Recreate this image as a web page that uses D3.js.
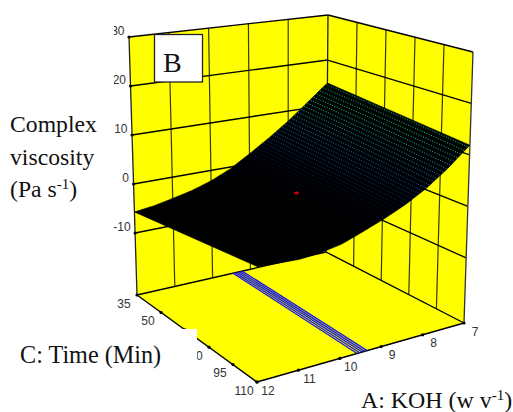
<!DOCTYPE html>
<html>
<head>
<meta charset="utf-8">
<style>
  html, body { margin: 0; padding: 0; background: #fff; }
  svg { display: block; }
</style>
<script src="https://cdn.jsdelivr.net/npm/d3@7"></script>
</head>
<body>
<div id="chart"></div>
<script>
// values
var kohTicks = [7, 8, 9, 10, 11, 12];
var timeTicks = [35, 50, 65, 80, 95, 110];
var zTicks = [-10, 0, 10, 20, 30];
var zFloor = -22.65;

var kohGrid = [12, 11.5, 11, 10.5, 10, 9.5, 9, 8.5, 8, 7.5, 7];
var zAtTime35 = [-5.7, -5.2, -4.4, -3.5, -2.2, -0.4, 2.1, 4.8, 7.8, 11.3, 14.9];
var zAtTime110 = [-2.3, -2.5, -2.7, -2.4, -1.7, -0.3, 1.2, 3.0, 5.3, 8.3, 11.9];

// floor contour lines, KOH where each one meets the two time edges
var contourKohAt35 = [9.46, 9.40, 9.34, 9.28, 9.22];
var contourKohAt110 = [9.58, 9.52, 9.46, 9.40, 9.34];

var centerPoint = { koh: 9.5, time: 72.5, z: 1.1 };

var width = 513, height = 412;

var svg = d3.select("#chart").append("svg")
    .attr("width", width)
    .attr("height", height);

// pixel positions of the box corners, u goes koh 12->7, v goes time 35->110
var floorCorners = { a: [137, 295], b: [326, 252], c: [257, 382], d: [464, 323] };
var topCorners = { a: [129, 37], b: [328, 15], c: [259, 84], d: [473, 52] };

var scaleU = d3.scaleLinear().domain([12, 7]).range([0, 1]);
var scaleV = d3.scaleLinear().domain([35, 110]).range([0, 1]);
var scaleH = d3.scaleLinear().domain([zFloor, 30]).range([0, 1]);

function bilinear(c, u, v) {
    var near = d3.interpolate(c.a, c.b)(u);
    var far = d3.interpolate(c.c, c.d)(u);
    return d3.interpolate(near, far)(v);
}

function project(koh, time, z) {
    var u = scaleU(koh), v = scaleV(time);
    return d3.interpolate(bilinear(floorCorners, u, v), bilinear(topCorners, u, v))(scaleH(z));
}

var line = d3.line();

function poly(points, fill) {
    svg.append("path")
        .attr("d", line(points) + "Z")
        .attr("fill", fill)
        .attr("stroke", "none");
}

function seg(p, q, w, col) {
    svg.append("path")
        .attr("d", line([p, q]))
        .attr("fill", "none")
        .attr("stroke", col || "#000")
        .attr("stroke-width", w || 1.2);
}

// back walls and floor
poly([project(12, 35, zFloor), project(7, 35, zFloor), project(7, 35, 30), project(12, 35, 30)], "#ffff00");
poly([project(7, 35, zFloor), project(7, 110, zFloor), project(7, 110, 30), project(7, 35, 30)], "#ffff00");
poly([project(12, 35, zFloor), project(7, 35, zFloor), project(7, 110, zFloor), project(12, 110, zFloor)], "#ffff00");

// wall grid
kohTicks.slice(1, -1).forEach(function(k) {
    seg(project(k, 35, zFloor), project(k, 35, 30), 1.2, "#3a3a00");
});
timeTicks.slice(1, -1).forEach(function(t) {
    seg(project(7, t, zFloor), project(7, t, 30), 1.2, "#3a3a00");
});
zTicks.forEach(function(z) {
    seg(project(12, 35, z), project(7, 35, z), 1.3);
    seg(project(7, 35, z), project(7, 110, z), 1.3);
});

// box edges
seg(project(12, 35, zFloor), project(12, 35, 30), 1.3, "#222");
seg(project(7, 35, zFloor), project(7, 35, 30), 1.3, "#222");
seg(project(7, 110, zFloor), project(7, 110, 30), 1.3, "#333");
seg(project(12, 35, zFloor), project(7, 35, zFloor), 1.4);
seg(project(7, 35, zFloor), project(7, 110, zFloor), 1.4);
seg(project(12, 35, zFloor), project(12, 110, zFloor), 1.4);
seg(project(12, 110, zFloor), project(7, 110, zFloor), 1.4);

// contour band on the floor
contourKohAt35.forEach(function(k, i) {
    seg(project(k, 35, zFloor), project(contourKohAt110[i], 110, zFloor), 1.35, "#1c1ce0");
});

// surface
var zLow = d3.scaleLinear().domain(kohGrid).range(zAtTime35);
var zHigh = d3.scaleLinear().domain(kohGrid).range(zAtTime110);
function surfaceZ(koh, time) {
    return d3.interpolate(zLow(koh), zHigh(koh))(scaleV(time));
}

var edgeKoh = d3.range(12, 6.99, -0.1);
var outline = edgeKoh.map(function(k) { return project(k, 35, surfaceZ(k, 35)); })
    .concat(edgeKoh.slice().reverse().map(function(k) { return project(k, 110, surfaceZ(k, 110)); }));
poly(outline, "#000");
svg.select("path:last-child").attr("stroke", "#000").attr("stroke-width", 0.6);

var colorScale = d3.scaleLinear()
    .domain([-1, 2, 5, 8, 11, 15])
    .range(["#000000", "#06103c", "#0a4aa8", "#0a84c0", "#08c09a", "#0aae48"]);

var dots = [];
d3.range(0, 62).forEach(function(i) {
    d3.range(0, 62).forEach(function(j) {
        var koh = 12 - 5 * (i + 0.5) / 62;
        var time = 35 + 75 * (j + 0.5) / 62;
        dots.push({ koh: koh, time: time, z: surfaceZ(koh, time) });
    });
});

svg.append("g").selectAll("rect")
    .data(dots.filter(function(d) { return d.z > -1; }))
    .enter().append("rect")
    .attr("x", function(d) { return project(d.koh, d.time, d.z)[0] - 0.5; })
    .attr("y", function(d) { return project(d.koh, d.time, d.z)[1] - 0.5; })
    .attr("width", 1)
    .attr("height", 1)
    .attr("fill", function(d) { return colorScale(d.z); });

// design point
var cp = project(centerPoint.koh, centerPoint.time, centerPoint.z);
svg.append("ellipse")
    .attr("cx", cp[0]).attr("cy", cp[1])
    .attr("rx", 2.4).attr("ry", 1.6)
    .attr("fill", "#d00000");

// tick dots
function tickDot(p) {
    svg.append("circle").attr("cx", p[0]).attr("cy", p[1]).attr("r", 1.6).attr("fill", "#000");
}
zTicks.forEach(function(z) { tickDot(project(12, 35, z)); });
timeTicks.forEach(function(t) { tickDot(project(12, t, zFloor)); });
kohTicks.forEach(function(k) { tickDot(project(k, 110, zFloor)); });

// tick labels
function tickLabel(x, y, str, anchor) {
    svg.append("text")
        .attr("x", x).attr("y", y)
        .attr("text-anchor", anchor)
        .attr("font-family", "Liberation Sans, Arial, sans-serif")
        .attr("font-size", 12)
        .attr("fill", "#333")
        .text(str);
}
zTicks.forEach(function(z) {
    var p = project(12, 35, z);
    tickLabel(p[0] - 4.5, p[1] - 2.5, z, "end");
});
timeTicks.forEach(function(t) {
    var p = project(12, t, zFloor);
    tickLabel(p[0] - 13, p[1] + 12.5, t, "middle");
});
kohTicks.forEach(function(k) {
    var p = project(k, 110, zFloor);
    tickLabel(p[0] + 11, p[1] + 12.5, k, "middle");
});

// white text boxes pasted over the plot
svg.append("rect").attr("x", 100).attr("y", 24).attr("width", 14).attr("height", 70).attr("fill", "#fff");
svg.append("rect").attr("x", 0).attr("y", 329).attr("width", 197).attr("height", 43).attr("fill", "#fff");

svg.append("rect")
    .attr("x", 154.5).attr("y", 34.5)
    .attr("width", 48).attr("height", 47.5)
    .attr("fill", "#fff")
    .attr("stroke", "#222")
    .attr("stroke-width", 1.3);

function bigText(x, y, size) {
    return svg.append("text")
        .attr("x", x).attr("y", y)
        .attr("font-family", "Liberation Serif, Times New Roman, serif")
        .attr("font-size", size)
        .attr("fill", "#111");
}

bigText(163, 72, 28).text("B");
bigText(10, 132, 23.7).text("Complex");
bigText(10, 165, 23.7).text("viscosity");

var unitY = bigText(10, 197, 23.7);
unitY.append("tspan").text("(Pa s");
unitY.append("tspan").attr("dy", -8).attr("font-size", 15).text("-1");
unitY.append("tspan").attr("dy", 8).text(")");

bigText(20, 363, 24.2).text("C: Time (Min)");

var unitX = bigText(361, 408, 23.9);
unitX.append("tspan").text("A: KOH (w v");
unitX.append("tspan").attr("dy", -8).attr("font-size", 15).text("-1");
unitX.append("tspan").attr("dy", 8).text(")");
</script>
</body>
</html>
